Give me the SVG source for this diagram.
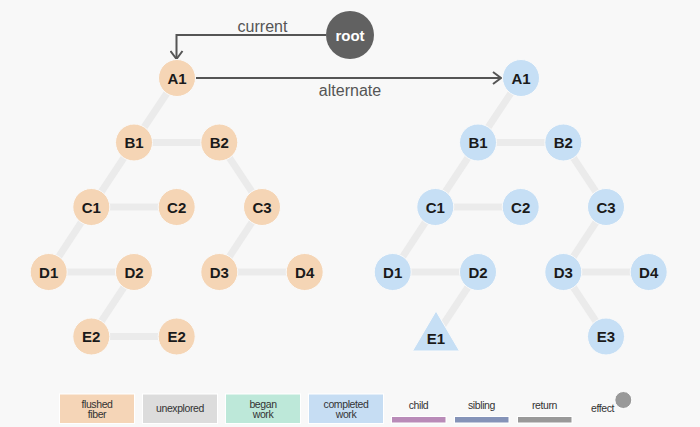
<svg xmlns="http://www.w3.org/2000/svg" width="700" height="427" viewBox="0 0 700 427">
<defs>
<style>
text{font-family:"Liberation Sans",Arial,Helvetica,sans-serif}
.edge{stroke:#ebebeb;stroke-width:7;stroke-linecap:butt;fill:none}
.flushed{fill:#f5d5b5;stroke:#fafafa;stroke-width:1}
.done{fill:#c6dff5;stroke:#fafafa;stroke-width:1}
.nl{font-size:15px;font-weight:bold;fill:#1a1a1a;text-anchor:middle}
.ptr{stroke:#555;stroke-width:2;fill:none}
.plabel{font-size:16px;fill:#555;text-anchor:middle}
.lg{font-size:10.5px;fill:#333;text-anchor:middle;letter-spacing:-0.4px}
.box{stroke:#ffffff;stroke-width:1}
</style>
<marker id="chev" viewBox="0 0 10 14" refX="9" refY="7" markerWidth="10" markerHeight="14" markerUnits="userSpaceOnUse" orient="auto">
<path d="M1,1 L9,7 L1,13" fill="none" stroke="#555" stroke-width="2"/>
</marker>
</defs>
<rect width="700" height="427" fill="#f8f8f8"/>

<g id="connectors">
<!-- left tree -->
<line class="edge" x1="177" y1="78" x2="134" y2="142.5"/>
<line class="edge" x1="134" y1="142.5" x2="219.3" y2="142.5"/>
<line class="edge" x1="134" y1="142.5" x2="91.3" y2="207"/>
<line class="edge" x1="219.3" y1="142.5" x2="262" y2="207"/>
<line class="edge" x1="91.3" y1="207" x2="176.7" y2="207"/>
<line class="edge" x1="91.3" y1="207" x2="48.7" y2="272"/>
<line class="edge" x1="262" y1="207" x2="219.3" y2="272"/>
<line class="edge" x1="48.7" y1="272" x2="134" y2="272"/>
<line class="edge" x1="219.3" y1="272" x2="304.7" y2="272"/>
<line class="edge" x1="134" y1="272" x2="91.3" y2="336.5"/>
<line class="edge" x1="91.3" y1="336.5" x2="176.7" y2="336.5"/>
<!-- right tree -->
<line class="edge" x1="521" y1="78" x2="478" y2="142.5"/>
<line class="edge" x1="478" y1="142.5" x2="563.3" y2="142.5"/>
<line class="edge" x1="478" y1="142.5" x2="435.3" y2="207"/>
<line class="edge" x1="563.3" y1="142.5" x2="606" y2="207"/>
<line class="edge" x1="435.3" y1="207" x2="520.7" y2="207"/>
<line class="edge" x1="435.3" y1="207" x2="392.7" y2="272"/>
<line class="edge" x1="606" y1="207" x2="563.3" y2="272"/>
<line class="edge" x1="392.7" y1="272" x2="478" y2="272"/>
<line class="edge" x1="563.3" y1="272" x2="648.7" y2="272"/>
<line class="edge" x1="478" y1="272" x2="435.3" y2="336.5"/>
<line class="edge" x1="563.3" y1="272" x2="606" y2="336.5"/>
<!-- pointers -->
<polyline class="ptr" points="326,35 176.5,35 176.5,59" marker-end="url(#chev)"/>
<line class="ptr" x1="196" y1="78" x2="501" y2="78" marker-end="url(#chev)"/>
<text class="plabel" x="262.5" y="32">current</text>
<text class="plabel" x="350" y="96">alternate</text>
</g>

<g id="root"><circle cx="350" cy="35" r="24" fill="#616161"/><text x="350" y="40.5" font-size="15" font-weight="bold" fill="#fff" text-anchor="middle">root</text></g>

<g id="L-A1"><circle class="flushed" cx="177" cy="78" r="18.5"/><text class="nl" x="177" y="83.5">A1</text></g>
<g id="L-B1"><circle class="flushed" cx="134" cy="142.5" r="18.5"/><text class="nl" x="134" y="148">B1</text></g>
<g id="L-B2"><circle class="flushed" cx="219.3" cy="142.5" r="18.5"/><text class="nl" x="219.3" y="148">B2</text></g>
<g id="L-C1"><circle class="flushed" cx="91.3" cy="207" r="18.5"/><text class="nl" x="91.3" y="212.5">C1</text></g>
<g id="L-C2"><circle class="flushed" cx="176.7" cy="207" r="18.5"/><text class="nl" x="176.7" y="212.5">C2</text></g>
<g id="L-C3"><circle class="flushed" cx="262" cy="207" r="18.5"/><text class="nl" x="262" y="212.5">C3</text></g>
<g id="L-D1"><circle class="flushed" cx="48.7" cy="272" r="18.5"/><text class="nl" x="48.7" y="277.5">D1</text></g>
<g id="L-D2"><circle class="flushed" cx="134" cy="272" r="18.5"/><text class="nl" x="134" y="277.5">D2</text></g>
<g id="L-D3"><circle class="flushed" cx="219.3" cy="272" r="18.5"/><text class="nl" x="219.3" y="277.5">D3</text></g>
<g id="L-D4"><circle class="flushed" cx="304.7" cy="272" r="18.5"/><text class="nl" x="304.7" y="277.5">D4</text></g>
<g id="L-E2a"><circle class="flushed" cx="91.3" cy="336.5" r="18.5"/><text class="nl" x="91.3" y="342">E2</text></g>
<g id="L-E2b"><circle class="flushed" cx="176.7" cy="336.5" r="18.5"/><text class="nl" x="176.7" y="342">E2</text></g>

<g id="R-A1"><circle class="done" cx="521" cy="78" r="18.5"/><text class="nl" x="521" y="83.5">A1</text></g>
<g id="R-B1"><circle class="done" cx="478" cy="142.5" r="18.5"/><text class="nl" x="478" y="148">B1</text></g>
<g id="R-B2"><circle class="done" cx="563.3" cy="142.5" r="18.5"/><text class="nl" x="563.3" y="148">B2</text></g>
<g id="R-C1"><circle class="done" cx="435.3" cy="207" r="18.5"/><text class="nl" x="435.3" y="212.5">C1</text></g>
<g id="R-C2"><circle class="done" cx="520.7" cy="207" r="18.5"/><text class="nl" x="520.7" y="212.5">C2</text></g>
<g id="R-C3"><circle class="done" cx="606" cy="207" r="18.5"/><text class="nl" x="606" y="212.5">C3</text></g>
<g id="R-D1"><circle class="done" cx="392.7" cy="272" r="18.5"/><text class="nl" x="392.7" y="277.5">D1</text></g>
<g id="R-D2"><circle class="done" cx="478" cy="272" r="18.5"/><text class="nl" x="478" y="277.5">D2</text></g>
<g id="R-D3"><circle class="done" cx="563.3" cy="272" r="18.5"/><text class="nl" x="563.3" y="277.5">D3</text></g>
<g id="R-D4"><circle class="done" cx="648.7" cy="272" r="18.5"/><text class="nl" x="648.7" y="277.5">D4</text></g>
<g id="R-E1"><polygon class="done" points="436,311 459.5,351 412.5,351" stroke="none"/><text class="nl" x="436" y="344">E1</text></g>
<g id="R-E3"><circle class="done" cx="606" cy="336.5" r="18.5"/><text class="nl" x="606" y="342">E3</text></g>

<g id="legend">
<rect class="box" x="59.5" y="394" width="75" height="29.5" fill="#f5d5b7"/>
<text class="lg" x="97" y="407.5">flushed</text><text class="lg" x="97" y="418">fiber</text>
<rect class="box" x="142.5" y="394" width="75" height="29.5" fill="#dcdcdc"/>
<text class="lg" x="180" y="411.5">unexplored</text>
<rect class="box" x="225.5" y="394" width="75" height="29.5" fill="#bde8d9"/>
<text class="lg" x="263" y="407.5">began</text><text class="lg" x="263" y="418">work</text>
<rect class="box" x="308.5" y="394" width="75" height="29.5" fill="#c6ddf3"/>
<text class="lg" x="346" y="407.5">completed</text><text class="lg" x="346" y="418">work</text>
<text class="lg" x="418.5" y="409">child</text>
<rect class="box" x="391.5" y="416.5" width="54.5" height="6.5" fill="#b98bb8"/>
<text class="lg" x="481.5" y="409">sibling</text>
<rect class="box" x="454.5" y="416.5" width="54.5" height="6.5" fill="#8593b8"/>
<text class="lg" x="544.5" y="409">return</text>
<rect class="box" x="517.5" y="416.5" width="54.5" height="6.5" fill="#999999"/>
<text class="lg" x="602.5" y="412">effect</text>
<circle cx="623.3" cy="400" r="8.5" fill="#999999" stroke="#ffffff" stroke-width="1"/>
</g>
</svg>
